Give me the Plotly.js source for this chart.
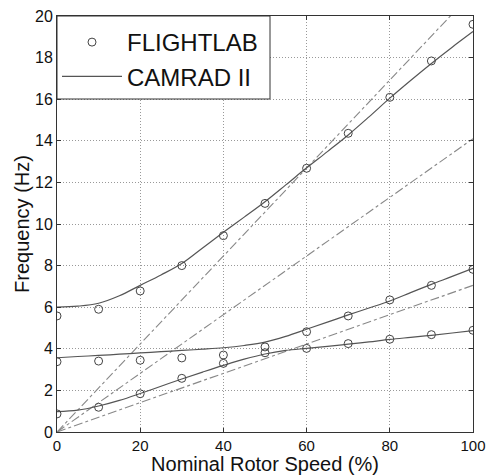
<!DOCTYPE html>
<html>
<head>
<meta charset="utf-8">
<script src="https://cdn.plot.ly/plotly-3.0.1.min.js"></script>
<style>html,body{margin:0;padding:0;background:#fff;}#chart{width:488px;height:475px;}</style>
</head>
<body>
<div id="chart"></div>
<script>
// FLIGHTLAB points
const speedPts = [0, 10, 20, 30, 40, 50, 60, 70, 80, 90, 100];
const flUpper  = [5.58, 5.9, 6.78, 8.0, 9.44, 10.99, 12.68, 14.36, 16.09, 17.84, 19.6];
const flMiddle = [3.38, 3.41, 3.45, 3.56, 3.70, 4.09, 4.82, 5.58, 6.35, 7.05, 7.82];
const flLower  = [0.87, 1.19, 1.84, 2.58, 3.30, 3.81, 4.02, 4.25, 4.46, 4.68, 4.89];

// CAMRAD II curves
const speedCurve = [0, 5, 10, 15, 20, 25, 30, 35, 40, 45, 50, 55, 60, 65, 70, 75, 80, 85, 90, 95, 100];
const crUpper  = [6.0, 6.05, 6.19, 6.55, 7.05, 7.55, 8.1, 8.85, 9.6, 10.33, 11.07, 11.88, 12.7, 13.48, 14.28, 15.15, 16.05, 16.9, 17.72, 18.5, 19.25];
const crMiddle = [3.57, 3.63, 3.68, 3.74, 3.8, 3.86, 3.92, 3.98, 4.05, 4.16, 4.32, 4.6, 4.94, 5.28, 5.63, 5.96, 6.3, 6.7, 7.1, 7.48, 7.87];
const crLower  = [0.98, 1.05, 1.25, 1.52, 1.85, 2.2, 2.55, 2.88, 3.2, 3.5, 3.75, 3.92, 4.02, 4.12, 4.22, 4.33, 4.45, 4.55, 4.65, 4.76, 4.87];

// Per-rev harmonic lines (1P, 2P, 3P)
const speedRev = [0, 100];
const rev1 = [0, 7.05];
const rev2 = [0, 14.1];
const rev3 = [0, 21.15];

const lineCol = '#555';
const revCol = '#888';
const markCol = '#444';

const traces = [];
[rev1, rev2, rev3].forEach(r => traces.push({
  x: speedRev, y: r, mode: 'lines', showlegend: false,
  line: {color: revCol, width: 1.1, dash: 'dashdot'}, hoverinfo: 'skip'
}));
[crUpper, crMiddle, crLower].forEach((c, i) => traces.push({
  x: speedCurve, y: c, mode: 'lines', name: 'CAMRAD II', showlegend: i === 0,
  legendrank: 2,
  line: {color: lineCol, width: 1.2, shape: 'spline', smoothing: 1}
}));
[flUpper, flMiddle, flLower].forEach((f, i) => traces.push({
  x: speedPts, y: f, mode: 'markers', name: 'FLIGHTLAB', showlegend: i === 0,
  legendrank: 1,
  marker: {symbol: 'circle-open', size: 8, color: markCol, line: {width: 1, color: markCol}}
}));

const font = {family: 'Liberation Sans, Arial, sans-serif', color: '#111'};
const plotW = 416, plotH = 416;

const layout = {
  width: 488, height: 475,
  margin: {l: 57, r: 15, t: 16, b: 43},
  paper_bgcolor: '#fff', plot_bgcolor: '#fff',
  font: Object.assign({size: 15}, font),
  xaxis: {
    range: [0, 100], dtick: 20, tick0: 0,
    showgrid: true, gridcolor: '#999', griddash: '1px,2px', gridwidth: 1,
    zeroline: false, showline: true, linecolor: '#333', linewidth: 1, mirror: 'ticks',
    ticks: 'inside', ticklen: 4, tickcolor: '#333',
    tickfont: Object.assign({size: 15}, font),
    title: {text: 'Nominal Rotor Speed (%)', font: Object.assign({size: 20}, font), standoff: 2}
  },
  yaxis: {
    range: [0, 20], dtick: 2, tick0: 0,
    showgrid: true, gridcolor: '#999', griddash: '1px,2px', gridwidth: 1,
    zeroline: false, showline: true, linecolor: '#333', linewidth: 1, mirror: 'ticks',
    ticks: 'inside', ticklen: 4, tickcolor: '#333',
    tickfont: Object.assign({size: 16}, font),
    title: {text: 'Frequency (Hz)', font: Object.assign({size: 20}, font), standoff: 0}
  },
  shapes: [{
    type: 'rect', xref: 'paper', yref: 'paper', layer: 'above',
    x0: 0, x1: (270 - 57) / plotW, y0: (432 - 99) / plotH, y1: 1,
    fillcolor: '#fff', line: {color: '#333', width: 1}
  }],
  legend: {
    x: 0, y: 1 - 4 / plotH, xanchor: 'left', yanchor: 'top',
    bgcolor: 'rgba(0,0,0,0)', borderwidth: 0,
    font: Object.assign({size: 24}, font),
    tracegroupgap: 0, itemwidth: 60
  },
  showlegend: true
};

Plotly.newPlot('chart', traces, layout, {staticPlot: true, displayModeBar: false});
</script>
</body>
</html>
